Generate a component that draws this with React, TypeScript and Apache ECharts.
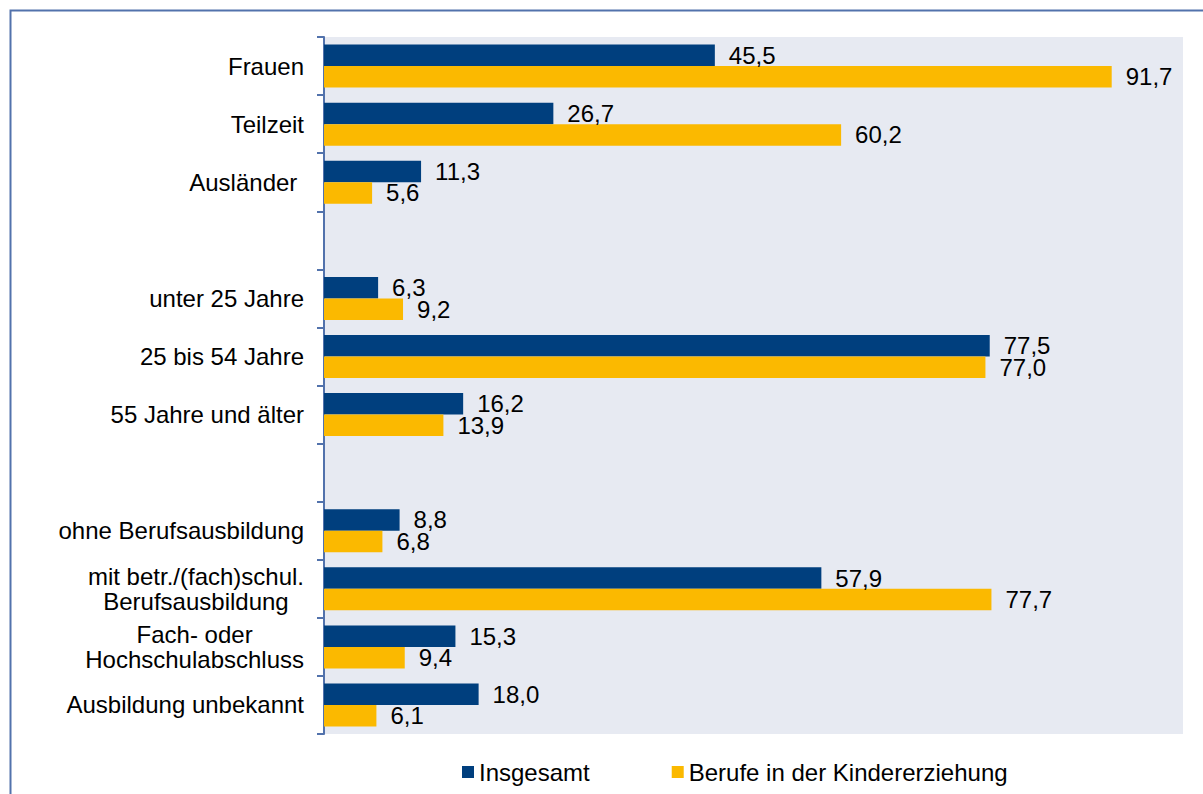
import React, { useEffect, useRef } from "react";
import * as echarts from "echarts";

const categories: string[] = [
  "Frauen",
  "Teilzeit",
  "Ausländer ",
  "",
  "unter 25 Jahre",
  "25 bis 54 Jahre",
  "55 Jahre und älter",
  " ",
  "ohne Berufsausbildung",
  "mit betr./(fach)schul.\nBerufsausbildung",
  "Fach- oder\nHochschulabschluss",
  "Ausbildung unbekannt",
];

const insgesamt: (number | null)[] = [45.5, 26.7, 11.3, null, 6.3, 77.5, 16.2, null, 8.8, 57.9, 15.3, 18.0];
const kindererziehung: (number | null)[] = [91.7, 60.2, 5.6, null, 9.2, 77.0, 13.9, null, 6.8, 77.7, 9.4, 6.1];

const seriesNames = ["Insgesamt", "Berufe in der Kindererziehung"];
const FONT = '"Liberation Sans", Arial, Helvetica, sans-serif';
const FS = 24;
const BLUE = "#003F7E";
const YELLOW = "#FBB900";
const AXIS = "#5272AC";

const fmt = (v: any) => (v == null ? "" : Number(v).toFixed(1).replace(".", ","));

export default function App() {
  const ref = useRef<HTMLDivElement>(null);
  useEffect(() => {
    if (!ref.current) return;
    const chart = echarts.init(ref.current, undefined, { renderer: "svg" });
    const label = {
      show: true,
      position: "right" as const,
      distance: 14,
      color: "#000",
      fontSize: FS,
      lineHeight: 21,
      fontFamily: FONT,
      formatter: (p: any) => fmt(p.value),
    };
    chart.setOption({
      animation: false,
      backgroundColor: "#fff",
      graphic: [
        {
          type: "rect",
          left: 8,
          top: 8,
          shape: { x: 0, y: 0, width: 1300, height: 900 },
          style: { fill: "none", stroke: AXIS, lineWidth: 2 },
          silent: true,
        },
      ],
      grid: {
        left: 324,
        right: 20,
        top: 37,
        bottom: 60,
        show: true,
        backgroundColor: "#E7EAF2",
        borderWidth: 0,
        containLabel: false,
      },
      legend: {
        left: 462,
        top: 760,
        padding: 0,
        itemWidth: 12,
        itemHeight: 12,
        itemGap: 82,
        icon: "rect",
        textStyle: { fontSize: FS, fontFamily: FONT, color: "#000", lineHeight: 22 },
        data: seriesNames,
      },
      xAxis: {
        type: "value",
        min: 0,
        max: 100,
        show: false,
      },
      yAxis: {
        type: "category",
        inverse: true,
        data: categories,
        axisLine: { show: true, lineStyle: { color: AXIS, width: 2 } },
        axisTick: { show: true, length: 7, lineStyle: { color: AXIS, width: 2 } },
        axisLabel: {
          margin: 20,
          interval: 0,
          color: "#000",
          fontSize: FS,
          fontFamily: FONT,
          formatter: (v: string) =>
            v.trim() === "" ? "" : v.split("\n").map((l) => `{c|${l}}`).join("\n"),
          rich: {
            c: { align: "center", fontSize: FS, fontFamily: FONT, color: "#000", lineHeight: 25 },
          },
        },
        splitLine: { show: false },
      },
      series: [
        {
          name: seriesNames[0],
          type: "bar",
          data: insgesamt,
          barWidth: 21.5,
          barGap: "0%",
          itemStyle: { color: BLUE },
          label,
        },
        {
          name: seriesNames[1],
          type: "bar",
          data: kindererziehung,
          barWidth: 21.5,
          barGap: "0%",
          itemStyle: { color: YELLOW },
          label,
        },
      ],
    });
    return () => chart.dispose();
  }, []);
  return (
    <div
      ref={ref}
      style={{ position: "fixed", left: 0, top: 0, width: 1203, height: 794 }}
    />
  );
}
